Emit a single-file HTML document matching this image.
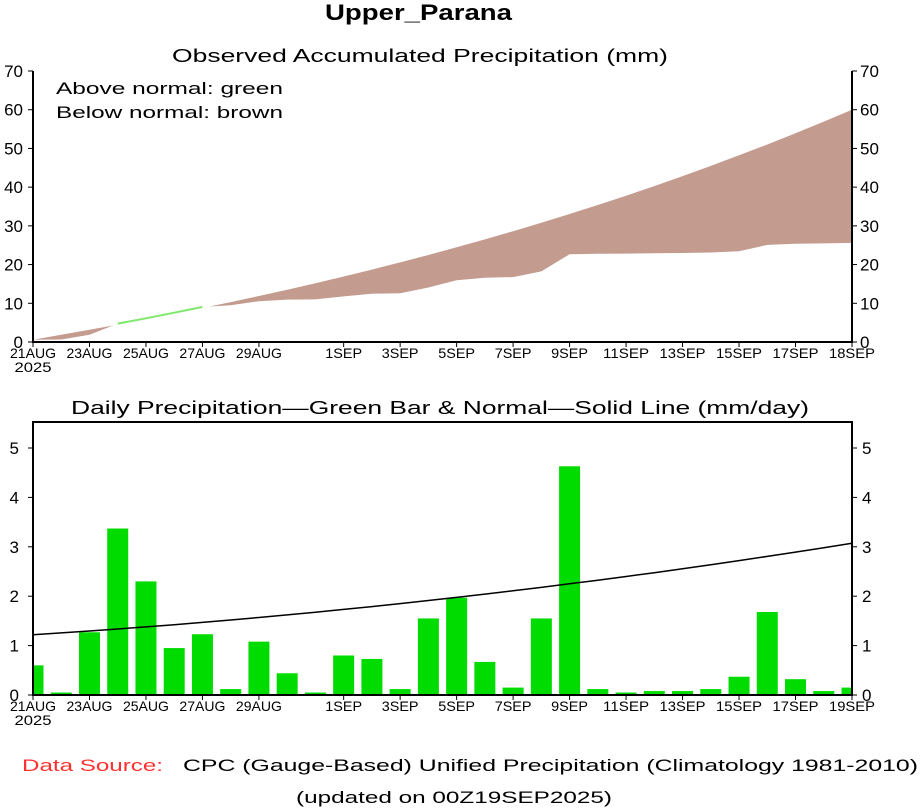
<!DOCTYPE html>
<html><head><meta charset="utf-8"><style>
body{margin:0;background:#fff;width:922px;height:809px;overflow:hidden}
svg{display:block}
text{font-family:"Liberation Sans",sans-serif;fill:#000}
</style></head><body>
<svg id="s" width="922" height="809" xmlns="http://www.w3.org/2000/svg"></svg>
<script>
const s=document.getElementById('s');let h='';
const X0=33,X1=852,DW=(X1-X0)/29;
const T0=342,TU=(342-71)/70;
const B0=695,BU=(695-448)/5;
const ty=v=>T0-v*TU, by=v=>B0-v*BU, dx=i=>X0+i*DW;
const daily=[0.6,0.05,1.27,3.37,2.3,0.95,1.23,0.12,1.08,0.44,0.05,0.8,0.73,0.12,1.55,1.97,0.67,0.15,1.55,4.63,0.12,0.05,0.08,0.08,0.12,0.37,1.68,0.32,0.08,0.15];
const norm=d=>1.22+0.036*d+0.00096*d*d;
let obs=[],nrm=[],c=0.6,n=0.6;
for(let i=0;i<=29;i++){obs.push(c);nrm.push(n);c+=daily[i+1]||0;n+=norm(i+0.5)}
const sc=(60-0.6)/(nrm[29]-0.6);nrm=nrm.map(v=>0.6+(v-0.6)*sc);
const os=(25.6-0.6)/(obs[29]-0.6);obs=obs.map(v=>0.6+(v-0.6)*os);
for(let i=3;i<=6;i++)obs[i]=nrm[i]+0.25;
obs[2]=Math.min(obs[2],nrm[2]-0.8);
let op=[],np=[];for(let i=0;i<=29;i++){op.push(dx(i).toFixed(1)+','+ty(obs[i]).toFixed(1));np.push(dx(i).toFixed(1)+','+ty(nrm[i]).toFixed(1))}
h+=`<defs><clipPath id="above"><polygon points="${X0},${T0-300} ${op.join(' ')} ${X1},${T0-300}"/></clipPath>
<clipPath id="bp"><rect x="${X0}" y="420" width="${X1-X0}" height="280"/></clipPath></defs>`;
h+=`<polygon clip-path="url(#above)" fill="#c49b8f" points="${X0},${T0} ${np.join(' ')} ${X1},${T0}"/>`;
h+=`<polyline fill="none" stroke="#7fe86a" stroke-width="2" points="${op.slice(3,7).join(' ')}"/>`;
h+=`<path d="M${X0},71V${T0}H${X1}V71" fill="none" stroke="#000" stroke-width="2"/>`;
for(let v=0;v<=70;v+=10){const y=ty(v);h+=`<line x1="${X0-5}" x2="${X0}" y1="${y}" y2="${y}" stroke="#000"/><line x1="${X1}" x2="${X1+5}" y1="${y}" y2="${y}" stroke="#000"/><text x="23" y="${y+6}" font-size="17" text-anchor="end">${v}</text><text x="860" y="${y+6}" font-size="17">${v}</text>`}
const tl=[[0,'21AUG'],[2,'23AUG'],[4,'25AUG'],[6,'27AUG'],[8,'29AUG'],[11,'1SEP'],[13,'3SEP'],[15,'5SEP'],[17,'7SEP'],[19,'9SEP'],[21,'11SEP'],[23,'13SEP'],[25,'15SEP'],[27,'17SEP'],[29,'18SEP']];
tl.forEach(([i,l])=>{const x=dx(i);h+=`<line x1="${x}" x2="${x}" y1="${T0}" y2="${T0+5}" stroke="#000"/><text x="${x}" y="${T0+16}" font-size="14" text-anchor="middle" textLength="${l.length*9.2}" lengthAdjust="spacingAndGlyphs">${l}</text>`});
h+=`<text x="33" y="372" font-size="14" text-anchor="middle" textLength="37" lengthAdjust="spacingAndGlyphs">2025</text>`;
h+=`<text x="56" y="94" font-size="17" textLength="227" lengthAdjust="spacingAndGlyphs">Above normal: green</text><text x="56" y="118" font-size="17" textLength="227" lengthAdjust="spacingAndGlyphs">Below normal: brown</text>`;
h+=`<text x="325" y="20" font-size="22" textLength="187" lengthAdjust="spacingAndGlyphs" font-weight="bold">Upper_Parana</text>`;
h+=`<text x="172" y="62" font-size="18" textLength="496" lengthAdjust="spacingAndGlyphs">Observed Accumulated Precipitation (mm)</text>`;
h+=`<text x="71" y="414" font-size="18" textLength="738" lengthAdjust="spacingAndGlyphs">Daily Precipitation—Green Bar &amp; Normal—Solid Line (mm/day)</text>`;
h+='<g clip-path="url(#bp)">';
daily.forEach((v,i)=>{const x=dx(i)-10.5;h+=`<rect x="${x}" y="${by(v)}" width="21" height="${v*BU}" fill="#00dc00"/>`});
let lp=[];for(let i=0;i<=29;i++)lp.push(dx(i).toFixed(1)+','+by(norm(i)).toFixed(1));
h+=`<polyline fill="none" stroke="#000" stroke-width="1.5" points="${lp.join(' ')}"/></g>`;
h+=`<rect x="${X0}" y="422" width="${X1-X0}" height="${B0-422}" fill="none" stroke="#000" stroke-width="2"/>`;
for(let v=0;v<=5;v++){const y=by(v);h+=`<line x1="${X0-5}" x2="${X0}" y1="${y}" y2="${y}" stroke="#000"/><line x1="${X1}" x2="${X1+5}" y1="${y}" y2="${y}" stroke="#000"/><text x="19" y="${y+6}" font-size="17" text-anchor="end">${v}</text><text x="862" y="${y+6}" font-size="17">${v}</text>`}
tl.forEach(([i,l])=>{if(l=='18SEP')l='19SEP';const x=dx(i);h+=`<line x1="${x}" x2="${x}" y1="${B0}" y2="${B0+5}" stroke="#000"/><text x="${x}" y="${B0+16}" font-size="14" text-anchor="middle" textLength="${l.length*9.2}" lengthAdjust="spacingAndGlyphs">${l}</text>`});
h+=`<text x="33" y="725" font-size="14" text-anchor="middle" textLength="37" lengthAdjust="spacingAndGlyphs">2025</text>`;
h+=`<text x="22" y="771" font-size="17" fill="#ff3030" style="fill:#ff3030" textLength="141" lengthAdjust="spacingAndGlyphs">Data Source:</text>`;
h+=`<text x="183" y="771" font-size="17" textLength="735" lengthAdjust="spacingAndGlyphs">CPC (Gauge-Based) Unified Precipitation (Climatology 1981-2010)</text>`;
h+=`<text x="296" y="803" font-size="17" textLength="316" lengthAdjust="spacingAndGlyphs">(updated on 00Z19SEP2025)</text>`;
s.innerHTML=h;
</script>
</body></html>
